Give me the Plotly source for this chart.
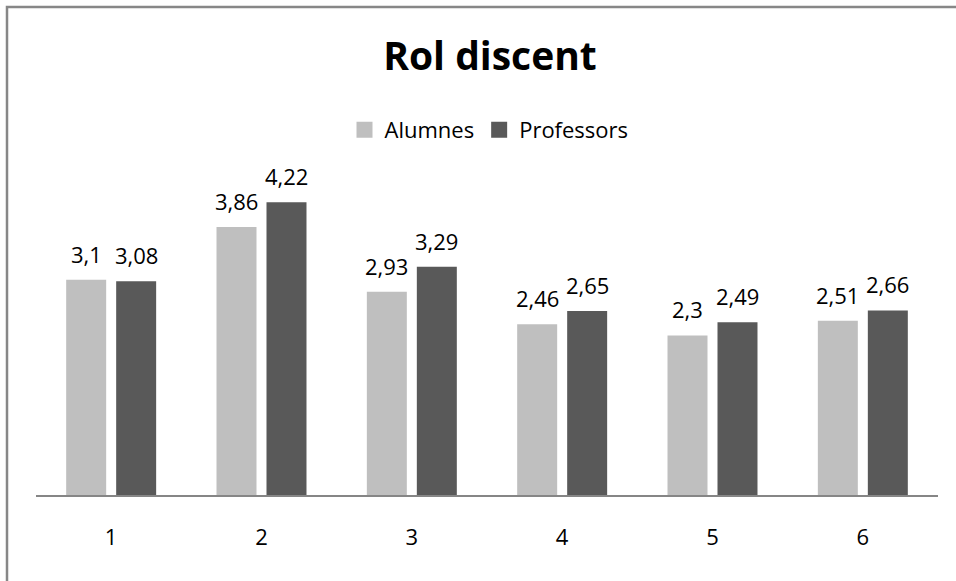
import plotly.graph_objects as go

# Survey categories and mean scores for each group
categories = ["1", "2", "3", "4", "5", "6"]
alumnes = [3.1, 3.86, 2.93, 2.46, 2.3, 2.51]
professors = [3.08, 4.22, 3.29, 2.65, 2.49, 2.66]

series_names = ["Alumnes", "Professors"]
series_values = [alumnes, professors]
series_colors = ["#bfbfbf", "#595959"]

FONT = "Open Sans"
W, H = 956, 581
M_L, M_R, M_T, M_B = 36, 18, 148, 86


def fmt(v):
    # decimal comma, no trailing zeros
    return ("%g" % v).replace(".", ",")


fig = go.Figure()

for name, vals, color in zip(series_names, series_values, series_colors):
    fig.add_trace(go.Bar(
        x=categories, y=vals, name=name,
        marker=dict(color=color, line=dict(width=0)),
        showlegend=False,
    ))

# legend entries with larger square swatches
for name, color in zip(series_names, series_colors):
    fig.add_trace(go.Scatter(
        x=[categories[0]], y=[None], mode="markers", name=name,
        marker=dict(symbol="square", size=16, color=color),
        showlegend=True, hoverinfo="skip",
    ))

# value labels above each bar (x given as the category index)
offsets = [-25, 25]
for vals, dx in zip(series_values, offsets):
    for i, v in enumerate(vals):
        fig.add_annotation(
            x=i, y=v, text=fmt(v), showarrow=False,
            xanchor="center", yanchor="bottom",
            xshift=dx, yshift=9,
            font=dict(family=FONT, size=22, color="#000000"),
        )

plot_w = W - M_L - M_R
plot_h = H - M_T - M_B
bottom_px = H - M_B

# outer chart frame (left and top edges visible)
fig.add_shape(
    type="rect", xref="paper", yref="paper",
    x0=(7 - M_L) / plot_w, x1=(W + 20 - M_L) / plot_w,
    y0=(bottom_px - (H + 20)) / plot_h, y1=(bottom_px - 7) / plot_h,
    line=dict(color="#878787", width=2.5), fillcolor="rgba(0,0,0,0)",
    layer="below",
)

fig.update_layout(
    width=W, height=H,
    margin=dict(l=M_L, r=M_R, t=M_T, b=M_B),
    paper_bgcolor="white", plot_bgcolor="white",
    barmode="group", bargap=0.335, bargroupgap=0.2,
    title=dict(
        text="<b>Rol discent</b>",
        x=490 / W, xref="container", xanchor="center",
        y=1 - 56 / H, yref="container", yanchor="middle",
        font=dict(family=FONT, size=39, color="#000000"),
    ),
    legend=dict(
        orientation="h",
        x=(489 - M_L) / plot_w, xanchor="center",
        y=(bottom_px - 130) / plot_h, yanchor="middle",
        font=dict(family=FONT, size=22, color="#000000"),
        itemclick=False, itemdoubleclick=False,
        bgcolor="rgba(0,0,0,0)",
    ),
    xaxis=dict(
        type="category", categoryorder="array", categoryarray=categories,
        range=[-0.5, len(categories) - 0.5],
        showgrid=False, zeroline=False,
        showline=True, linecolor="#868686", linewidth=1.5,
        ticks="", ticklabelstandoff=22,
        tickfont=dict(family=FONT, size=22, color="#000000"),
        fixedrange=True,
    ),
    yaxis=dict(
        range=[0, 5], visible=False, showgrid=False, zeroline=False,
        fixedrange=True,
    ),
    showlegend=True,
)

fig.write_html("out.html")
